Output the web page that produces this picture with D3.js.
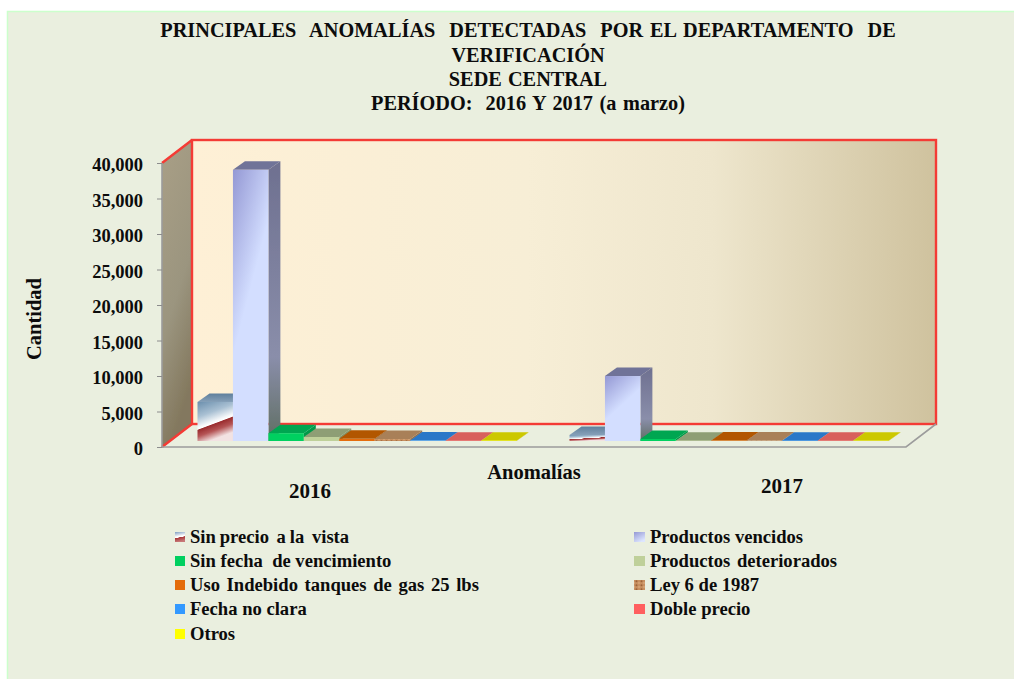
<!DOCTYPE html>
<html><head><meta charset="utf-8">
<script src="https://cdn.jsdelivr.net/npm/d3@7"></script>
<style>
html,body{margin:0;padding:0;background:#fff}
svg{display:block}
text{font-family:"Liberation Serif",serif;font-weight:bold;fill:#0c0c0c;white-space:pre}
</style></head><body><div id="chart"></div>
<script>
const categories = ["2016", "2017"];
const seriesNames = ["Sin precio  a la  vista","Productos vencidos","Sin fecha  de vencimiento","Productos deteriorados","Uso Indebido tanques de gas 25 lbs","Ley 6 de 1987","Fecha no clara","Doble precio","Otros"];
const sinPrecio = [5500, 850];
const vencidos = [38200, 9150];
const sinFecha = [1100, 280];
const deteriorados = [560, 40];
const usoIndebido = [300, 60];
const ley6 = [280, 60];
const fechaNoClara = [60, 50];
const doblePrecio = [40, 30];
const otros = [50, 30];
const seriesValues = [sinPrecio, vencidos, sinFecha, deteriorados, usoIndebido, ley6, fechaNoClara, doblePrecio, otros];
const yTicks = [0,5000,10000,15000,20000,25000,30000,35000,40000];
const titleLines = ["PRINCIPALES  ANOMALÍAS  DETECTADAS  POR EL DEPARTAMENTO  DE","VERIFICACIÓN","SEDE  CENTRAL","PERÍODO:  2016 Y 2017 (a marzo)"];

const frontFill = ["url(#gSin)","url(#gVen)","#00D060","#BFD09A","#E46C0A","url(#pLey)","#3399FF","#FF5F5F","#FFFF00"];
const topFill = ["url(#gSinTop)","#707398","#00A651","#8E9E74","#B25600","#A98058","#2A78C8","#D8605C","#CCC800"];
const sideFill = ["#7f8ea0","url(#gVenSide)","#00994a","#84946a","#A85000","#96704c","#2468b0","#c45450","#b8b400"];
const swatchFill = ["url(#gSwatch)","url(#gVenSw)","#00D060","#BFD09A","#E46C0A","url(#pLey)","#3399FF","#FF5F5F","#FFFF00"];

const W=1014,H=679;
const svg=d3.select("#chart").append("svg").attr("width",W).attr("height",H);
const defs=svg.append("defs");
function grad(id,p,stops){
  const g=defs.append("linearGradient").attr("id",id).attr("x1",p[0]).attr("y1",p[1]).attr("x2",p[2]).attr("y2",p[3]);
  stops.forEach(s=>g.append("stop").attr("offset",s[0]).attr("stop-color",s[1]));
}
grad("gWall",[0,0,1,0],[[0,"#FEF0D6"],[.45,"#F7EED6"],[.7,"#EEE6CD"],[1,"#CFC29E"]]);
grad("gSide",[0,0,.3,1],[[0,"#A99F86"],[.6,"#9B957F"],[1,"#83785E"]]);
grad("gSin",[0,0,.34,1],[[0,"#6B8FAD"],[.35,"#A9C0D3"],[.58,"#F4F7F9"],[.63,"#FFFFFF"],[.65,"#9A2C2E"],[.8,"#B55556"],[1,"#F2E2E2"]]);
grad("gSinTop",[0,0,0,1],[[0,"#5F7F9C"],[1,"#86A0B8"]]);
grad("gVen",[0,0,.5,1],[[0,"#9498D4"],[.55,"#D3DEFF"],[1,"#D3DEFF"]]);
grad("gVenSide",[0,0,0,1],[[0,"#6E7090"],[.7,"#8A8EAA"],[1,"#5F6E62"]]);
grad("gSwatch",[0,0,.2,1],[[0,"#7E9CC0"],[.5,"#FFFFFF"],[.58,"#FFFFFF"],[.62,"#A83638"],[1,"#C77878"]]);
grad("gVenSw",[0,0,.6,1],[[0,"#9498D4"],[1,"#DDE6FF"]]);
const pat=defs.append("pattern").attr("id","pLey").attr("width",5).attr("height",4).attr("patternUnits","userSpaceOnUse");
pat.append("rect").attr("width",5).attr("height",4).attr("fill","#C78F5F");
pat.append("circle").attr("cx",1.5).attr("cy",1.2).attr("r",1).attr("fill","#9C6238");
pat.append("circle").attr("cx",4).attr("cy",3).attr("r",.8).attr("fill","#E0B48A");
const soft=defs.append("filter").attr("id","soft").attr("x","-5%").attr("y","-5%").attr("width","110%").attr("height","110%");
soft.append("feGaussianBlur").attr("stdDeviation",0.45);

svg.append("rect").attr("x",7).attr("y",11).attr("width",W-7).attr("height",H-11).attr("fill","#EAEFDF");
svg.append("path").attr("d",`M7.5 ${H}V11.5H${W}`).attr("fill","none").attr("stroke","#CCFFCC").attr("stroke-width",1.5);

// plot geometry
const x0=162,x1=906,yB=447,yT=163,wallDX=30,wallDY=-23,barDX=7.5,barDY=-6,faceDX=12,faceDY=-8.5;
const y=d3.scaleLinear().domain([0,40000]).range([yB,yT]);
const xGroup=d3.scaleBand().domain(categories).range([x0,x1]);
const xBar=d3.scaleBand().domain(seriesNames).range([28,xGroup.bandwidth()-25]);

const plot=svg.append("g").attr("filter","url(#soft)");
const poly=pts=>pts.map(p=>p.join(",")).join(" ");
plot.append("polygon").attr("points",poly([[x0,yT],[x0+wallDX,yT+wallDY],[x0+wallDX,yB+wallDY],[x0,yB]])).attr("fill","url(#gSide)");
plot.append("rect").attr("x",x0+wallDX).attr("y",yT+wallDY).attr("width",x1-x0).attr("height",yB-yT)
  .attr("fill","url(#gWall)").attr("stroke","#F43A34").attr("stroke-width",2.4);
plot.append("path").attr("d",`M${x0} ${yT}L${x0+wallDX} ${yT+wallDY}M${x0} ${yB}L${x0+wallDX} ${yB+wallDY}`).attr("stroke","#F43A34").attr("stroke-width",2.4).attr("fill","none");
plot.append("path").attr("d",`M${x0} ${yT}V${yB}H${x1}L${x1+wallDX} ${yB+wallDY}`).attr("stroke","#9C9C9C").attr("stroke-width",1.6).attr("fill","none");

// bars
categories.forEach((c,ci)=>{
  const g=plot.append("g");
  seriesNames.forEach((s,si)=>{
    const v=seriesValues[si][ci];
    const xl=xGroup(c)+xBar(s)+barDX, xr=xl+xBar.bandwidth();
    const yb=y(0)+barDY, yt=y(v)+barDY;
    g.append("polygon").attr("points",poly([[xr,yt],[xr+faceDX,yt+faceDY],[xr+faceDX,yb+faceDY],[xr,yb]])).attr("fill",sideFill[si]);
    g.append("polygon").attr("points",poly([[xl,yt],[xl+faceDX,yt+faceDY],[xr+faceDX,yt+faceDY],[xr,yt]])).attr("fill",topFill[si]);
    g.append("rect").attr("x",xl).attr("y",yt).attr("width",xBar.bandwidth()).attr("height",yb-yt).attr("fill",frontFill[si]);
  });
});

// axis
const axis=d3.axisLeft(y).tickValues(yTicks).tickFormat(d3.format(",")).tickSize(5).tickPadding(14);
const ax=svg.append("g").attr("transform",`translate(${x0},0)`).call(axis);
ax.select(".domain").remove();
ax.selectAll("line").attr("stroke","#8c8c8c").attr("stroke-width",1);
ax.selectAll("text").attr("font-size",18.5).attr("dy","0.42em").style("font-family",'"Liberation Serif",serif');

// title
const titleBase=[37,62,86,110], titleWS=[1.9,0,-2,1.5];
titleLines.forEach((t,i)=>svg.append("text").attr("x",528).attr("y",titleBase[i]).attr("text-anchor","middle")
  .attr("font-size",20.3).attr("word-spacing",titleWS[i]).text(t));

svg.append("text").attr("transform","translate(41,319) rotate(-90)").attr("text-anchor","middle").attr("font-size",20.5).text("Cantidad");
svg.append("text").attr("x",534).attr("y",479).attr("text-anchor","middle").attr("font-size",20.5).text("Anomalías");
const catLabelPos=[[310,498],[782,493]];
categories.forEach((c,i)=>svg.append("text").attr("x",catLabelPos[i][0]).attr("y",catLabelPos[i][1]).attr("text-anchor","middle").attr("font-size",21).text(c));

// legend
const legRows=[532,556,580,604,629], legCols=[175,634], legWS=[-.8,0,0,2,2,0,0,0,0];
seriesNames.forEach((s,i)=>{
  const col=i%2,row=Math.floor(i/2);
  svg.append("rect").attr("x",legCols[col]).attr("y",legRows[row]).attr("width",col?11:10).attr("height",10).attr("fill",swatchFill[i]);
  svg.append("text").attr("x",legCols[col]+(col?16:15)).attr("y",legRows[row]+11).attr("font-size",18.6).attr("word-spacing",legWS[i]).text(s);
});
</script></body></html>
